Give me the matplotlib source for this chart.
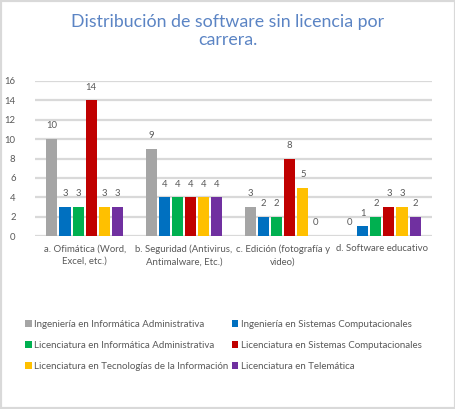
import matplotlib
matplotlib.use("Agg")
import matplotlib.pyplot as plt
from matplotlib.patches import Rectangle
import numpy as np

categories = ["a. Ofimática (Word,\nExcel, etc.)",
              "b. Seguridad (Antivirus,\nAntimalware, Etc.)",
              "c. Edición (fotografía y\nvideo)",
              "d. Software educativo"]
series = ["Ingeniería en Informática Administrativa",
          "Ingeniería en Sistemas Computacionales",
          "Licenciatura en Informática Administrativa",
          "Licenciatura en Sistemas Computacionales",
          "Licenciatura en Tecnologías de la Información",
          "Licenciatura en Telemática"]
values = [
    [10, 9, 3, 0],
    [3, 4, 2, 1],
    [3, 4, 2, 2],
    [14, 4, 8, 3],
    [3, 4, 5, 3],
    [3, 4, 0, 2],
]
colors = ["#A5A5A5", "#0070C0", "#00B050", "#C00000", "#FFC000", "#7030A0"]

plt.rcParams['font.family'] = ['Lato', 'DejaVu Sans']
txt = "#595959"

fig = plt.figure(figsize=(4.56, 4.09), dpi=100)
fig.patches.append(Rectangle((0, 0), 1, 1, transform=fig.transFigure,
                             fill=False, edgecolor="#D9D9D9", linewidth=3))

ax = fig.add_axes([35 / 456, 1 - 236 / 409, (432 - 35) / 456, (236 - 81) / 409])
x = np.arange(len(categories))
step = 0.132
width = 0.112
for i, (name, vals) in enumerate(zip(series, values)):
    pos = x + (i - 2.5) * step
    ax.bar(pos, vals, width, color=colors[i], label=name, zorder=3)
    for p, v in zip(pos, vals):
        ax.text(p, v + 0.9, str(v), ha="center", va="bottom", fontsize=6.8, color=txt)

ax.set_xlim(-0.5, len(categories) - 0.5)
ax.set_ylim(0, 16)
ax.set_yticks(range(0, 17, 2))
ax.yaxis.grid(True, color="#D9D9D9", linewidth=1.6, zorder=0)
ax.set_axisbelow(True)
for s in ["top", "right", "left", "bottom"]:
    ax.spines[s].set_visible(False)
ax.tick_params(axis="both", length=0, labelsize=6.8, colors=txt)
ax.tick_params(axis="y", pad=14)
ax.set_xticks(x)
ax.set_xticklabels(categories, fontsize=6.9, color=txt, linespacing=1.5)
ax.tick_params(axis="x", pad=6)

fig.text(0.5, 1 - 31 / 409, "Distribución de software sin licencia por\ncarrera.",
         ha="center", va="center", fontsize=12.8, color="#5B84C4", linespacing=1.1)

handles, labels = ax.get_legend_handles_labels()
order = [0, 2, 4, 1, 3, 5]
leg = fig.legend([handles[k] for k in order], [labels[k] for k in order],
                 loc="upper left", bbox_to_anchor=(16 / 456, 1 - 311 / 409),
                 ncol=2, frameon=False, fontsize=7.0, handlelength=0.7, handleheight=0.7,
                 handletextpad=0.3, columnspacing=0.3, labelspacing=1.25)
for t in leg.get_texts():
    t.set_color(txt)

fig.savefig("out.png", dpi=100)
